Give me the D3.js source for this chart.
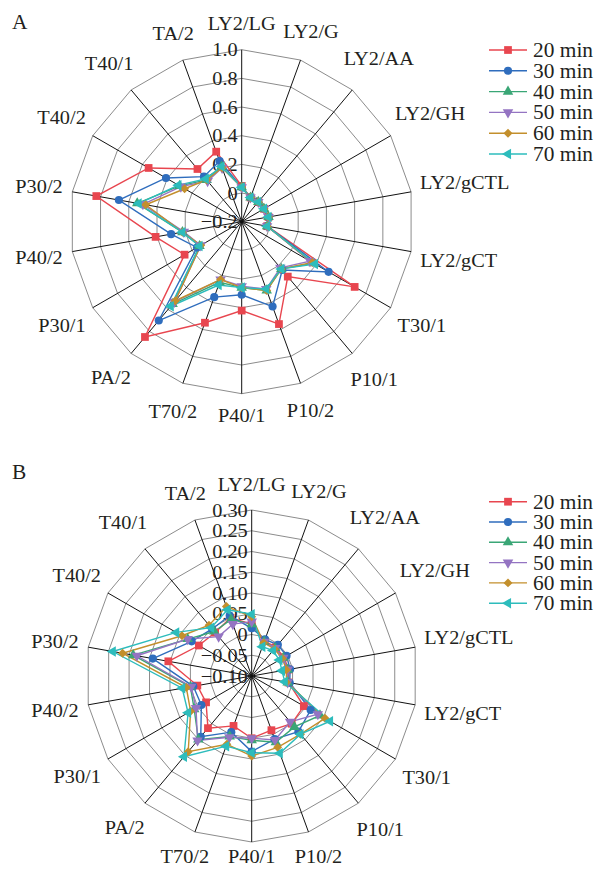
<!DOCTYPE html>
<html>
<head>
<meta charset="utf-8">
<script src="https://cdn.jsdelivr.net/npm/d3@7"></script>
<style>
  html, body { margin: 0; padding: 0; background: #fff; }
  svg text { font-family: "Liberation Serif", "Times New Roman", serif; fill: #231f20; }
</style>
</head>
<body>
<svg id="chart" width="595" height="869"></svg>
<script>
// categories around the radar, clockwise from top
const categories = ['LY2/LG', 'LY2/G', 'LY2/AA', 'LY2/GH', 'LY2/gCTL', 'LY2/gCT', 'T30/1', 'P10/1',
  'P10/2', 'P40/1', 'T70/2', 'PA/2', 'P30/1', 'P40/2', 'P30/2', 'T40/2', 'T40/1', 'TA/2'];
const seriesNames = ['20 min', '30 min', '40 min', '50 min', '60 min', '70 min'];

// panel A values
const a20 = [0.05, -0.02, -0.02, -0.02, -0.01, -0.02, 0.71, 0.30, 0.56, 0.42, 0.55, 0.85, 0.26, 0.41, 0.83, 0.55, 0.28, 0.32];
const a30 = [0.04, -0.02, -0.02, -0.02, -0.01, -0.02, 0.50, 0.24, 0.43, 0.31, 0.36, 0.70, 0.16, 0.30, 0.67, 0.41, 0.21, 0.25];
const a40 = [0.04, -0.02, -0.02, -0.02, -0.01, -0.02, 0.38, 0.23, 0.31, 0.26, 0.25, 0.55, 0.14, 0.22, 0.54, 0.30, 0.18, 0.21];
const a50 = [0.04, -0.02, -0.02, -0.02, -0.01, -0.02, 0.35, 0.22, 0.30, 0.25, 0.23, 0.53, 0.13, 0.21, 0.50, 0.29, 0.17, 0.20];
const a60 = [0.04, -0.02, -0.02, -0.02, -0.01, -0.02, 0.37, 0.23, 0.31, 0.26, 0.23, 0.52, 0.13, 0.22, 0.48, 0.26, 0.18, 0.20];
const a70 = [0.04, -0.02, -0.02, -0.02, -0.01, -0.02, 0.39, 0.23, 0.30, 0.26, 0.27, 0.57, 0.14, 0.22, 0.53, 0.31, 0.19, 0.21];

// panel B values
const b20 = [0.025, -0.010, -0.010, -0.010, -0.010, -0.010, 0.045, 0.050, 0.039, 0.050, 0.028, 0.064, 0.027, 0.033, 0.104, 0.047, 0.037, 0.049];
const b30 = [0.015, -0.006, -0.002, -0.003, -0.006, -0.007, 0.064, 0.075, 0.062, 0.082, 0.044, 0.091, 0.040, 0.043, 0.142, 0.067, 0.048, 0.055];
const b40 = [0.025, -0.012, -0.012, -0.012, -0.012, -0.012, 0.090, 0.060, 0.070, 0.055, 0.055, 0.100, 0.060, 0.050, 0.190, 0.078, 0.040, 0.045];
const b50 = [0.031, -0.012, -0.012, -0.012, -0.012, -0.012, 0.084, 0.044, 0.064, 0.050, 0.057, 0.103, 0.055, 0.048, 0.181, 0.078, 0.024, 0.033];
const b60 = [0.043, -0.015, -0.015, -0.015, -0.015, -0.015, 0.104, 0.083, 0.083, 0.093, 0.075, 0.138, 0.070, 0.060, 0.216, 0.094, 0.060, 0.078];
const b70 = [0.049, -0.025, -0.020, -0.023, -0.026, -0.019, 0.118, 0.083, 0.098, 0.085, 0.080, 0.154, 0.077, 0.070, 0.240, 0.110, 0.052, 0.070];

// axis ticks
const ticksA = [-0.2, 0, 0.2, 0.4, 0.6, 0.8, 1.0];
const tickLabelsA = ['\u22120.2', '0', '0.2', '0.4', '0.6', '0.8', '1.0'];
const ticksB = [-0.10, -0.05, 0, 0.05, 0.10, 0.15, 0.20, 0.25, 0.30];
const tickLabelsB = ['\u22120.10', '\u22120.05', '0', '0.05', '0.10', '0.15', '0.20', '0.25', '0.30'];

const colors = ['#e8464f', '#2f6dbd', '#3aa676', '#9474c2', '#c38f2c', '#2dbcbc'];
// marker shape + rotation per series
const markers = [
  { type: d3.symbolSquare, size: 60, rotate: 0 },
  { type: d3.symbolCircle, size: 52, rotate: 0 },
  { type: d3.symbolTriangle, size: 48, rotate: 0 },
  { type: d3.symbolTriangle, size: 48, rotate: 180 },
  { type: d3.symbolSquare, size: 40, rotate: 45 },
  { type: d3.symbolTriangle, size: 48, rotate: -90 }
];

// the source font is a bit wider than Liberation Serif
const STRETCH = 1.07;
const HEIGHT = 869;

const svg = d3.select('#chart');

function place(sel, x, y) {
  sel.attr('transform', `translate(${x},${y}) scale(${STRETCH},1)`);
}

function drawRadar(opts) {
  const { cx, cy, R, ticks, tickLabels, series, legendX, legendY, legendStep, panel } = opts;
  const g = svg.append('g').attr('transform', `translate(${cx},${cy})`);
  const n = categories.length;

  const r = d3.scaleLinear().domain([ticks[0], ticks[ticks.length - 1]]).range([0, R]);
  const angle = d3.scaleLinear().domain([0, n]).range([0, 2 * Math.PI]);
  const px = (i, v) => r(v) * Math.sin(angle(i));
  const py = (i, v) => -r(v) * Math.cos(angle(i));

  // grid rings
  const ringLine = d3.lineRadial().curve(d3.curveLinearClosed)
    .angle((d, i) => angle(i)).radius(d => r(d));
  g.selectAll('.ring')
    .data(ticks.slice(1))
    .enter().append('path')
    .attr('class', 'ring')
    .attr('d', t => ringLine(categories.map(() => t)))
    .attr('fill', 'none')
    .attr('stroke', '#8c8c8c')
    .attr('stroke-width', 1);

  // spokes
  g.selectAll('.spoke')
    .data(categories)
    .enter().append('line')
    .attr('x1', 0).attr('y1', 0)
    .attr('x2', (d, i) => px(i, ticks[ticks.length - 1]))
    .attr('y2', (d, i) => py(i, ticks[ticks.length - 1]))
    .attr('stroke', '#111')
    .attr('stroke-width', 1);

  // tick labels along the top spoke
  g.selectAll('.tick')
    .data(ticks)
    .enter().append('text')
    .attr('dy', '0.35em')
    .attr('text-anchor', 'end')
    .style('font-size', '19px')
    .text((t, i) => tickLabels[i])
    .each(function (t) { place(d3.select(this), -4, -r(t)); });

  // category labels outside the rim
  g.selectAll('.cat')
    .data(categories)
    .enter().append('text')
    .style('font-size', '19px')
    .attr('text-anchor', 'middle')
    .attr('dy', '0.35em')
    .text(d => d)
    .each(function (d, i) {
      const w = this.getComputedTextLength() * STRETCH;
      const a = angle(i);
      const c = Math.cos(a);
      const rc = R + 8 + (w / 2) * Math.abs(Math.sin(a)) + 14 * Math.abs(c) + (c > 0.99 ? 4 : 0);
      let y = -rc * c;
      // keep the bottom label inside the picture
      y = Math.min(y, HEIGHT - cy - 13);
      place(d3.select(this), rc * Math.sin(a), y);
    });

  // series
  const line = d3.lineRadial().curve(d3.curveLinearClosed)
    .angle((d, i) => angle(i)).radius(d => r(d));

  series.forEach((vals, s) => {
    g.append('path')
      .attr('d', line(vals))
      .attr('fill', 'none')
      .attr('stroke', colors[s])
      .attr('stroke-width', 1.4);
  });
  series.forEach((vals, s) => {
    const m = markers[s];
    g.selectAll(null)
      .data(vals)
      .enter().append('path')
      .attr('d', d3.symbol().type(m.type).size(m.size))
      .attr('transform', (v, i) => `translate(${px(i, v)},${py(i, v)}) rotate(${m.rotate})`)
      .attr('fill', colors[s]);
  });

  // legend
  const lg = svg.append('g').attr('transform', `translate(${legendX},${legendY})`);
  seriesNames.forEach((name, s) => {
    const row = lg.append('g').attr('transform', `translate(0,${s * legendStep})`);
    row.append('line')
      .attr('x1', 0).attr('x2', 38).attr('y1', 0).attr('y2', 0)
      .attr('stroke', colors[s]).attr('stroke-width', 1.4);
    const m = markers[s];
    row.append('path')
      .attr('d', d3.symbol().type(m.type).size(m.size))
      .attr('transform', `translate(19,0) rotate(${m.rotate})`)
      .attr('fill', colors[s]);
    row.append('text')
      .attr('dy', '0.35em')
      .style('font-size', '20px')
      .text(name)
      .call(place, 44, 0);
  });

  // panel letter
  svg.append('text')
    .style('font-size', '20px')
    .text(panel.text)
    .call(place, panel.x, panel.y);
}

drawRadar({
  cx: 241.7, cy: 221.7, R: 172,
  ticks: ticksA, tickLabels: tickLabelsA,
  series: [a20, a30, a40, a50, a60, a70],
  legendX: 489, legendY: 50, legendStep: 20.8,
  panel: { x: 12, y: 29, text: 'A' }
});

drawRadar({
  cx: 251.7, cy: 676, R: 166,
  ticks: ticksB, tickLabels: tickLabelsB,
  series: [b20, b30, b40, b50, b60, b70],
  legendX: 489, legendY: 501.7, legendStep: 20.3,
  panel: { x: 12, y: 479, text: 'B' }
});
</script>
</body>
</html>
